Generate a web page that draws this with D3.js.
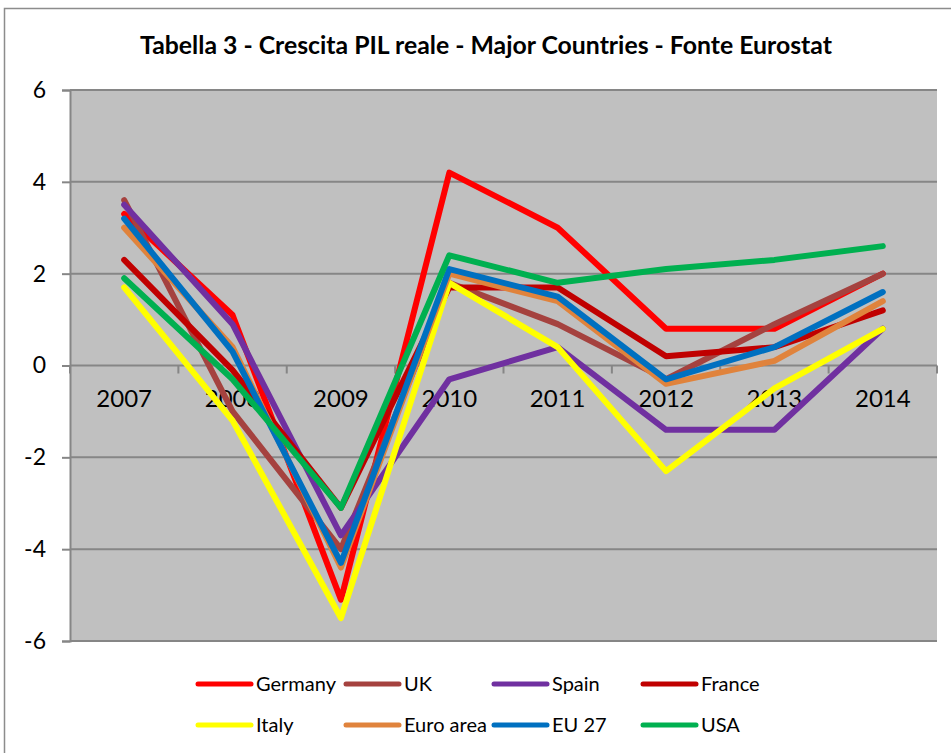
<!DOCTYPE html>
<html>
<head>
<meta charset="utf-8">
<script src="https://cdn.jsdelivr.net/npm/d3@7"></script>
<style>
  html, body { margin: 0; padding: 0; background: #fff; }
  svg { display: block; }
</style>
</head>
<body>
<svg id="chart" width="951" height="753"></svg>
<script>
const years = ["2007", "2008", "2009", "2010", "2011", "2012", "2013", "2014"];
const yTicks = [-6, -4, -2, 0, 2, 4, 6];
const seriesNames = ["Germany", "UK", "Spain", "France", "Italy", "Euro area", "EU 27", "USA"];
const germany  = [3.3, 1.1, -5.1, 4.2, 3.0, 0.8, 0.8, 2.0];
const uk       = [3.6, -1.0, -4.0, 1.8, 0.9, -0.3, 0.9, 2.0];
const spain    = [3.5, 0.9, -3.7, -0.3, 0.4, -1.4, -1.4, 0.8];
const france   = [2.3, -0.1, -3.1, 1.7, 1.7, 0.2, 0.4, 1.2];
const italy    = [1.7, -1.2, -5.5, 1.8, 0.4, -2.3, -0.5, 0.8];
const euroArea = [3.0, 0.4, -4.4, 2.0, 1.4, -0.4, 0.1, 1.4];
const eu27     = [3.2, 0.3, -4.3, 2.1, 1.5, -0.3, 0.4, 1.6];
const usa      = [1.9, -0.3, -3.1, 2.4, 1.8, 2.1, 2.3, 2.6];
const seriesValues = [germany, uk, spain, france, italy, euroArea, eu27, usa];
const colors = ["#FF0000", "#A5423F", "#7030A0", "#C00000", "#FFFF00", "#E0833C", "#0070C0", "#00B050"];
const title = "Tabella 3 - Crescita PIL reale - Major Countries - Fonte Eurostat";

const svg = d3.select("#chart");
const font = "Lato, 'Open Sans', sans-serif";

// outer frame
svg.append("rect").attr("x", 4.5).attr("y", 8.5).attr("width", 960).attr("height", 760)
  .attr("fill", "#fff").attr("stroke", "#8c8c8c").attr("stroke-width", 1.5);

const plot = { left: 70, right: 937, top: 90, bottom: 641 };

const x = d3.scaleBand().domain(years).range([plot.left, plot.right]).paddingInner(0).paddingOuter(0);
const y = d3.scaleLinear().domain([-6, 6]).range([plot.bottom, plot.top]);

// plot background
svg.append("rect").attr("x", plot.left).attr("y", plot.top)
  .attr("width", plot.right - plot.left).attr("height", plot.bottom - plot.top)
  .attr("fill", "#C0C0C0");

// gridlines
svg.append("g").selectAll("line").data(yTicks).join("line")
  .attr("x1", plot.left).attr("x2", plot.right)
  .attr("y1", d => y(d)).attr("y2", d => y(d))
  .attr("stroke", "#868686").attr("stroke-width", 2);

// y axis
const yAxis = d3.axisLeft(y).tickValues(yTicks).tickSize(8).tickPadding(16)
  .tickFormat(d => d < 0 ? "-" + Math.abs(d) : String(d));
const yg = svg.append("g").attr("transform", `translate(${plot.left},0)`).call(yAxis);
yg.select(".domain").attr("stroke", "#868686").attr("stroke-width", 2);
yg.selectAll(".tick line").attr("stroke", "#868686").attr("stroke-width", 2);
yg.selectAll(".tick text").attr("font-family", font).attr("font-size", 23).attr("fill", "#000");

// x axis at zero
const xAxis = d3.axisBottom(x).tickSizeInner(0).tickSizeOuter(0).tickPadding(24);
const xg = svg.append("g").attr("transform", `translate(0,${y(0)})`).call(xAxis);
xg.select(".domain").remove();
xg.selectAll(".tick text").attr("font-family", font).attr("font-size", 24).attr("fill", "#000");
// boundary tick marks
const bounds = years.map(d => x(d)).concat([x(years[years.length - 1]) + x.bandwidth()]);
svg.append("g").selectAll("line").data(bounds).join("line")
  .attr("x1", d => d).attr("x2", d => d)
  .attr("y1", y(0)).attr("y2", y(0) + 8)
  .attr("stroke", "#868686").attr("stroke-width", 2);

// lines
const line = d3.line()
  .x((d, i) => x(years[i]) + x.bandwidth() / 2)
  .y(d => y(d))
  .curve(d3.curveLinear);
svg.append("g").selectAll("path").data(seriesValues).join("path")
  .attr("d", d => line(d))
  .attr("fill", "none")
  .attr("stroke", (d, i) => colors[i])
  .attr("stroke-width", 6)
  .attr("stroke-linejoin", "round")
  .attr("stroke-linecap", "round");

// title
svg.append("text").attr("x", 486).attr("y", 54).attr("text-anchor", "middle")
  .attr("font-family", font).attr("font-weight", "bold").attr("font-size", 24.8)
  .attr("fill", "#000").text(title);

// legend
const legX = [198, 346, 494, 643];
const legY = [684, 725];
const leg = svg.append("g").selectAll("g").data(seriesNames).join("g")
  .attr("transform", (d, i) => `translate(${legX[i % 4]},${legY[Math.floor(i / 4)]})`);
leg.append("line").attr("x1", 0).attr("x2", 53).attr("y1", 0).attr("y2", 0)
  .attr("stroke", (d, i) => colors[i]).attr("stroke-width", 5).attr("stroke-linecap", "round");
leg.append("text").attr("x", 58).attr("y", 0).attr("dy", "0.35em")
  .attr("font-family", font).attr("font-size", 20).attr("fill", "#000").text(d => d);
</script>
</body>
</html>
